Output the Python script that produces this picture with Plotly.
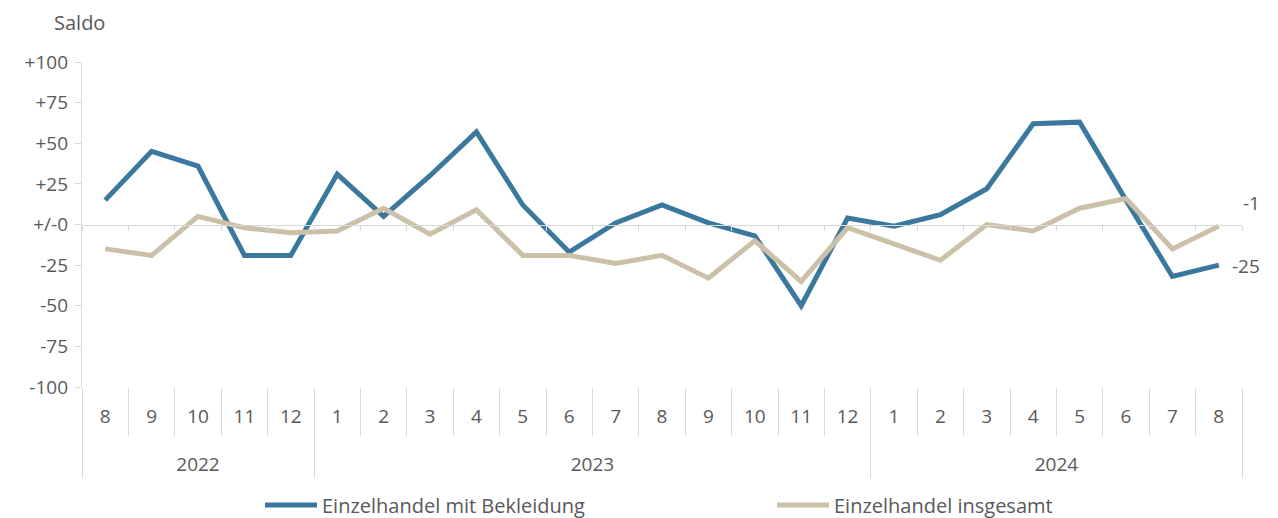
import plotly.graph_objects as go

months = ["8", "9", "10", "11", "12", "1", "2", "3", "4", "5", "6", "7", "8",
          "9", "10", "11", "12", "1", "2", "3", "4", "5", "6", "7", "8"]
years = ["2022", "2023", "2024"]
year_centers = [2, 10.5, 20.5]
year_bounds = [-0.5, 4.5, 16.5, 24.5]

bekleidung = [15, 45, 36, -19, -19, 31, 5, 30, 57, 12, -17, 1, 12, 1, -7, -50,
              4, -1, 6, 22, 62, 63, 15, -32, -25]
insgesamt = [-15, -19, 5, -2, -5, -4, 10, -6, 9, -19, -19, -24, -19, -33, -10, -35,
             -2, -12, -22, 0, -4, 10, 16, -15, -1]

names = ["Einzelhandel mit Bekleidung", "Einzelhandel insgesamt"]
colors = ["#3b789e", "#cbc0a8"]

y_ticks = [100, 75, 50, 25, 0, -25, -50, -75, -100]
y_text = ["+100", "+75", "+50", "+25", "+/-0", "-25", "-50", "-75", "-100"]

FONT = "Open Sans"
TXT = "#595959"
GRID = "#d9d9d9"
FS = 19

# page body has an 8px margin: shift everything up/left by 8px
OFF = 8

x = list(range(len(months)))
fig = go.Figure()
for vals, name, col, lg in zip([bekleidung, insgesamt], names, colors, ["legend", "legend2"]):
    fig.add_trace(go.Scatter(x=x, y=vals, mode="lines", name=name, legend=lg,
                             line=dict(color=col, width=5)))

# helper traces so the overlay axes are drawn
for ax in ["x2", "x3", "x4", "x5"]:
    fig.add_trace(go.Scatter(x=[0], y=[None], xaxis=ax, yaxis="y", mode="lines",
                             showlegend=False, hoverinfo="skip"))

rng = [-0.5, len(months) - 0.5]
common = dict(range=rng, showgrid=False, zeroline=False, fixedrange=True, automargin=False)
bounds = [i - 0.5 for i in range(len(months) + 1)]

leg = dict(orientation="h", yanchor="middle", xanchor="left", y=-0.363,
           font=dict(family=FONT, size=20, color=TXT), itemwidth=52,
           bgcolor="rgba(0,0,0,0)")

fig.update_layout(
    width=1278, height=518,
    margin=dict(l=82 - OFF, r=36 + OFF, t=62 - OFF, b=131 + OFF, autoexpand=False),
    paper_bgcolor="white", plot_bgcolor="white",
    font=dict(family=FONT, size=FS, color=TXT),
    showlegend=True,
    legend=dict(**leg, x=(260 - 82) / 1160),
    legend2=dict(**leg, x=(772 - 82) / 1160),
    xaxis=dict(**common, tickmode="array", tickvals=x, ticktext=months,
               ticks="", showline=False, ticklabelstandoff=16),
    xaxis2=dict(**common, overlaying="x", anchor="y", side="bottom",
                tickmode="array", tickvals=year_centers, ticktext=years,
                ticks="", showline=False, ticklabelstandoff=64),
    xaxis3=dict(**common, overlaying="x", anchor="y", side="bottom",
                tickmode="array", tickvals=bounds,
                showticklabels=False, ticks="outside", ticklen=48, tickwidth=1.3,
                tickcolor=GRID, showline=False),
    xaxis4=dict(**common, overlaying="x", anchor="y", side="bottom",
                tickmode="array", tickvals=year_bounds,
                showticklabels=False, ticks="outside", ticklen=90, tickwidth=1.3,
                tickcolor=GRID, showline=False),
    xaxis5=dict(**common, overlaying="x", anchor="free", position=0.5, side="bottom",
                tickmode="array", tickvals=bounds,
                showticklabels=False, ticks="outside", ticklen=5, tickwidth=1.3,
                tickcolor=GRID, showline=True, linecolor=GRID, linewidth=1.3),
    yaxis=dict(range=[-100, 100], tickmode="array", tickvals=y_ticks, ticktext=y_text,
               ticks="outside", ticklen=6, tickwidth=1.3, tickcolor=GRID,
               showline=True, linecolor=GRID, linewidth=1.3, automargin=False,
               showgrid=False, zeroline=False, fixedrange=True, ticklabelstandoff=3),
)

# end-value labels
fig.add_annotation(x=x[-1], y=insgesamt[-1], xref="x", yref="y",
                   text=f"{insgesamt[-1]}", showarrow=False, xanchor="left",
                   xshift=22, yshift=23, font=dict(family=FONT, size=FS, color=TXT))
fig.add_annotation(x=x[-1], y=bekleidung[-1], xref="x", yref="y",
                   text=f"{bekleidung[-1]}", showarrow=False, xanchor="left",
                   xshift=11, yshift=-1, font=dict(family=FONT, size=FS, color=TXT))

fig.add_annotation(text="Saldo", xref="paper", yref="paper",
                   x=(52 - 82) / 1160, y=(387 - 22) / 325, xanchor="left", yanchor="middle",
                   showarrow=False, font=dict(family=FONT, size=20, color=TXT))

fig.write_html("out.html")
